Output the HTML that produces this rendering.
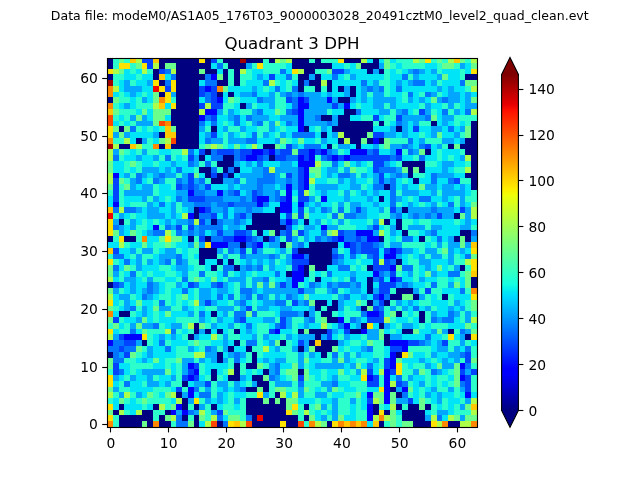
<!DOCTYPE html>
<html><head><meta charset="utf-8"><title>Quadrant 3 DPH</title>
<style>html,body{margin:0;padding:0;background:#fff}svg{display:block}text{font-family:"DejaVu Sans","Liberation Sans",sans-serif;fill:#000}</style></head>
<body>
<svg width="640" height="480" viewBox="0 0 640 480">
<defs><clipPath id="ax"><rect x="107" y="58" width="370" height="369"/></clipPath>
<linearGradient id="jet" x1="0" y1="0" x2="0" y2="1"><stop offset="0.0000" stop-color="#800000"/><stop offset="0.0900" stop-color="#e80000"/><stop offset="0.1100" stop-color="#ff1300"/><stop offset="0.3400" stop-color="#ffec00"/><stop offset="0.3500" stop-color="#f7f600"/><stop offset="0.3600" stop-color="#efff08"/><stop offset="0.6250" stop-color="#15ffe2"/><stop offset="0.6500" stop-color="#00e5f7"/><stop offset="0.6600" stop-color="#00dbff"/><stop offset="0.8750" stop-color="#0000ff"/><stop offset="0.8900" stop-color="#0000ff"/><stop offset="1.0000" stop-color="#000080"/></linearGradient></defs>
<rect width="640" height="480" fill="#fff"/>
<text x="50.8" y="20.1" font-size="12.5" textLength="537.9" lengthAdjust="spacing">Data file: modeM0/AS1A05_176T03_9000003028_20491cztM0_level2_quad_clean.evt</text>
<text x="292" y="49.27" font-size="16.667" text-anchor="middle">Quadrant 3 DPH</text>
<g shape-rendering="crispEdges" clip-path="url(#ax)"><path fill="#000080" d="M107 57h6v6h-6zM159 57h40v6h-40zM205 57h6v6h-6zM223 57h17v6h-17zM246 57h17v6h-17zM269 57h6v6h-6zM292 57h17v6h-17zM315 57h6v6h-6zM344 57h17v6h-17zM373 57h6v6h-6zM107 63h6v6h-6zM159 63h6v6h-6zM176 63h35v6h-35zM228 63h18v6h-18zM292 63h40v6h-40zM361 63h18v6h-18zM153 69h6v5h-6zM176 69h23v5h-23zM205 69h12v5h-12zM223 69h5v5h-5zM234 69h6v5h-6zM304 69h11v5h-11zM367 69h6v5h-6zM379 69h5v5h-5zM107 74h6v6h-6zM153 74h6v6h-6zM176 74h29v6h-29zM223 74h5v6h-5zM234 74h6v6h-6zM298 74h11v6h-11zM315 74h6v6h-6zM465 74h12v6h-12zM159 80h6v6h-6zM176 80h23v6h-23zM217 80h11v6h-11zM234 80h6v6h-6zM298 80h6v6h-6zM309 80h12v6h-12zM327 80h5v6h-5zM176 86h23v6h-23zM298 86h6v6h-6zM315 86h6v6h-6zM327 86h5v6h-5zM338 86h6v6h-6zM350 86h6v6h-6zM159 92h6v5h-6zM176 92h23v5h-23zM217 92h6v5h-6zM228 92h6v5h-6zM350 92h6v5h-6zM107 97h6v6h-6zM176 97h23v6h-23zM338 97h12v6h-12zM176 103h23v6h-23zM240 103h6v6h-6zM171 109h28v6h-28zM344 109h12v6h-12zM171 115h28v6h-28zM321 115h11v6h-11zM338 115h12v6h-12zM171 121h28v5h-28zM338 121h35v5h-35zM379 121h5v5h-5zM431 121h6v5h-6zM471 121h6v5h-6zM119 126h5v6h-5zM176 126h23v6h-23zM211 126h6v6h-6zM304 126h5v6h-5zM332 126h41v6h-41zM396 126h6v6h-6zM471 126h6v6h-6zM159 132h6v6h-6zM176 132h23v6h-23zM321 132h6v6h-6zM344 132h23v6h-23zM471 132h6v6h-6zM136 138h6v6h-6zM176 138h23v6h-23zM338 138h6v6h-6zM350 138h11v6h-11zM367 138h6v6h-6zM379 138h5v6h-5zM465 138h12v6h-12zM119 144h11v5h-11zM159 144h6v5h-6zM171 144h28v5h-28zM263 144h12v5h-12zM327 144h5v5h-5zM356 144h5v5h-5zM448 144h6v5h-6zM460 144h17v5h-17zM205 149h6v6h-6zM425 149h6v6h-6zM465 149h12v6h-12zM199 155h6v6h-6zM223 155h11v6h-11zM269 155h6v6h-6zM471 155h6v6h-6zM217 161h17v6h-17zM402 161h23v6h-23zM471 161h6v6h-6zM199 167h12v6h-12zM223 167h5v6h-5zM234 167h6v6h-6zM408 167h5v6h-5zM419 167h6v6h-6zM471 167h6v6h-6zM205 173h6v5h-6zM217 173h6v5h-6zM228 173h6v5h-6zM408 173h5v5h-5zM465 173h12v5h-12zM211 178h12v6h-12zM413 178h6v6h-6zM471 178h6v6h-6zM384 184h6v6h-6zM471 184h6v6h-6zM379 196h5v6h-5zM194 207h5v6h-5zM275 207h5v6h-5zM402 207h6v6h-6zM194 213h5v6h-5zM252 213h28v6h-28zM454 213h6v6h-6zM119 219h5v6h-5zM211 219h6v6h-6zM252 219h28v6h-28zM304 219h5v6h-5zM384 219h6v6h-6zM396 219h6v6h-6zM246 225h40v5h-40zM396 225h6v5h-6zM257 230h6v6h-6zM275 230h5v6h-5zM402 230h6v6h-6zM460 230h11v6h-11zM107 236h6v6h-6zM124 236h12v6h-12zM188 236h6v6h-6zM205 236h6v6h-6zM263 236h6v6h-6zM379 236h5v6h-5zM419 236h6v6h-6zM454 236h6v6h-6zM465 236h6v6h-6zM240 242h6v6h-6zM280 242h6v6h-6zM309 242h29v6h-29zM199 248h18v6h-18zM298 248h34v6h-34zM199 254h18v5h-18zM309 254h23v5h-23zM199 259h6v6h-6zM217 259h6v6h-6zM228 259h6v6h-6zM309 259h23v6h-23zM396 259h6v6h-6zM211 265h6v6h-6zM234 265h6v6h-6zM304 265h5v6h-5zM315 265h12v6h-12zM367 265h6v6h-6zM460 265h5v6h-5zM286 271h6v6h-6zM304 271h5v6h-5zM315 277h6v5h-6zM367 277h6v5h-6zM471 277h6v5h-6zM107 282h6v6h-6zM367 282h6v6h-6zM471 282h6v6h-6zM367 288h6v6h-6zM396 288h17v6h-17zM390 294h12v6h-12zM413 294h6v6h-6zM442 294h6v6h-6zM315 300h12v6h-12zM332 300h6v6h-6zM367 300h6v6h-6zM384 300h6v6h-6zM315 306h6v5h-6zM327 306h11v5h-11zM361 306h6v5h-6zM119 311h11v6h-11zM211 311h6v6h-6zM304 311h5v6h-5zM321 311h11v6h-11zM396 311h6v6h-6zM419 311h6v6h-6zM327 317h11v6h-11zM419 317h6v6h-6zM194 323h5v6h-5zM361 323h6v6h-6zM379 323h5v6h-5zM194 329h5v5h-5zM205 329h6v5h-6zM217 329h6v5h-6zM234 329h6v5h-6zM298 329h6v5h-6zM309 329h18v5h-18zM350 329h11v5h-11zM402 329h11v5h-11zM448 329h6v5h-6zM188 334h6v6h-6zM315 334h6v6h-6zM384 334h6v6h-6zM465 334h6v6h-6zM142 340h5v6h-5zM234 340h6v6h-6zM280 340h6v6h-6zM309 340h6v6h-6zM321 340h17v6h-17zM384 340h6v6h-6zM228 346h6v6h-6zM246 346h6v6h-6zM298 346h6v6h-6zM315 346h17v6h-17zM107 352h6v6h-6zM217 352h6v6h-6zM252 352h5v6h-5zM321 352h6v6h-6zM396 352h6v6h-6zM217 358h6v5h-6zM252 358h5v5h-5zM234 363h6v6h-6zM246 363h11v6h-11zM211 369h6v6h-6zM234 369h6v6h-6zM263 369h6v6h-6zM298 369h6v6h-6zM211 375h6v6h-6zM228 375h12v6h-12zM252 375h11v6h-11zM182 381h6v6h-6zM257 381h12v6h-12zM246 387h11v5h-11zM263 387h6v5h-6zM390 387h6v5h-6zM176 392h6v6h-6zM275 392h5v6h-5zM396 392h6v6h-6zM182 398h6v6h-6zM246 398h17v6h-17zM269 398h6v6h-6zM280 398h6v6h-6zM119 404h5v6h-5zM153 404h6v6h-6zM182 404h6v6h-6zM194 404h5v6h-5zM211 404h6v6h-6zM246 404h40v6h-40zM304 404h5v6h-5zM373 404h6v6h-6zM396 404h6v6h-6zM408 404h11v6h-11zM425 404h6v6h-6zM113 410h6v5h-6zM142 410h11v5h-11zM165 410h6v5h-6zM246 410h40v5h-40zM373 410h6v5h-6zM384 410h6v5h-6zM402 410h23v5h-23zM119 415h34v6h-34zM159 415h6v6h-6zM182 415h6v6h-6zM194 415h5v6h-5zM252 415h5v6h-5zM263 415h35v6h-35zM304 415h5v6h-5zM402 415h23v6h-23zM119 421h23v6h-23zM147 421h6v6h-6zM159 421h12v6h-12zM194 421h5v6h-5zM217 421h6v6h-6zM252 421h28v6h-28zM286 421h12v6h-12zM327 421h5v6h-5zM379 421h5v6h-5zM413 421h18v6h-18zM448 421h12v6h-12z"/><path fill="#0000ff" d="M211 74h6v6h-6zM205 86h6v6h-6zM217 97h6v6h-6zM298 97h6v6h-6zM327 97h5v6h-5zM298 103h11v6h-11zM344 103h6v6h-6zM205 109h12v6h-12zM298 109h6v6h-6zM199 115h6v6h-6zM298 115h6v6h-6zM298 121h6v5h-6zM298 126h6v6h-6zM373 138h6v6h-6zM252 149h11v6h-11zM269 149h6v6h-6zM309 149h6v6h-6zM321 149h6v6h-6zM350 149h17v6h-17zM396 149h6v6h-6zM246 155h11v6h-11zM298 155h6v6h-6zM309 155h6v6h-6zM332 155h6v6h-6zM344 155h6v6h-6zM298 161h17v6h-17zM304 167h5v6h-5zM113 173h6v5h-6zM304 173h5v5h-5zM304 178h5v6h-5zM286 184h6v6h-6zM304 184h5v6h-5zM188 190h6v6h-6zM217 190h6v6h-6zM286 190h6v6h-6zM257 196h12v6h-12zM286 196h6v6h-6zM321 196h6v6h-6zM113 202h6v5h-6zM257 202h6v5h-6zM280 202h12v5h-12zM298 202h6v5h-6zM199 207h6v6h-6zM280 207h12v6h-12zM188 213h6v6h-6zM286 219h6v6h-6zM153 225h6v5h-6zM321 225h6v5h-6zM356 230h17v6h-17zM234 236h12v6h-12zM338 236h6v6h-6zM367 236h12v6h-12zM211 242h17v6h-17zM257 242h6v6h-6zM344 242h6v6h-6zM390 248h6v6h-6zM292 254h12v5h-12zM384 254h12v5h-12zM298 265h6v6h-6zM390 265h6v6h-6zM292 271h12v6h-12zM373 271h6v6h-6zM292 277h12v5h-12zM390 277h6v5h-6zM292 282h6v6h-6zM379 294h5v6h-5zM367 311h12v6h-12zM338 317h6v6h-6zM344 323h6v6h-6zM275 329h5v5h-5zM361 329h6v5h-6zM124 334h18v6h-18zM107 340h6v6h-6zM390 340h18v6h-18zM402 346h6v6h-6zM390 352h6v6h-6zM390 358h6v5h-6zM188 363h6v6h-6zM390 363h6v6h-6zM460 363h5v6h-5zM194 369h5v6h-5zM384 369h6v6h-6zM188 375h6v6h-6zM367 375h6v6h-6zM384 375h6v6h-6zM460 375h5v6h-5zM384 381h6v6h-6zM188 387h6v5h-6zM384 387h6v5h-6zM402 387h6v5h-6zM188 392h6v6h-6zM367 392h6v6h-6zM384 392h6v6h-6zM465 392h6v6h-6zM384 398h6v6h-6zM176 404h6v6h-6zM367 404h6v6h-6zM171 410h5v5h-5zM182 410h6v5h-6zM367 410h6v5h-6zM367 415h6v6h-6z"/><path fill="#0044ff" d="M142 57h11v6h-11zM211 57h6v6h-6zM147 63h6v6h-6zM159 69h6v5h-6zM332 69h12v5h-12zM269 74h6v6h-6zM165 86h6v6h-6zM199 86h6v6h-6zM211 86h6v6h-6zM199 92h6v5h-6zM211 92h6v5h-6zM211 97h6v6h-6zM286 97h6v6h-6zM304 97h5v6h-5zM199 103h6v6h-6zM211 103h12v6h-12zM332 103h6v6h-6zM292 109h6v6h-6zM419 109h6v6h-6zM211 115h6v6h-6zM373 115h6v6h-6zM396 115h6v6h-6zM413 126h6v6h-6zM211 132h6v6h-6zM373 132h11v6h-11zM286 144h6v5h-6zM425 144h6v5h-6zM199 149h6v6h-6zM217 149h17v6h-17zM240 149h12v6h-12zM263 149h6v6h-6zM280 149h12v6h-12zM298 149h11v6h-11zM315 149h6v6h-6zM373 149h6v6h-6zM188 155h6v6h-6zM240 155h6v6h-6zM257 155h6v6h-6zM275 155h11v6h-11zM304 155h5v6h-5zM327 155h5v6h-5zM338 155h6v6h-6zM350 155h40v6h-40zM396 155h6v6h-6zM373 161h11v6h-11zM298 167h6v6h-6zM373 167h6v6h-6zM188 173h6v5h-6zM211 173h6v5h-6zM223 173h5v5h-5zM286 173h6v5h-6zM298 173h6v5h-6zM379 173h5v5h-5zM113 178h6v6h-6zM188 178h6v6h-6zM298 178h6v6h-6zM379 178h5v6h-5zM454 178h6v6h-6zM113 184h6v6h-6zM176 184h6v6h-6zM188 184h6v6h-6zM205 184h6v6h-6zM298 184h6v6h-6zM113 190h6v6h-6zM234 190h6v6h-6zM252 190h5v6h-5zM298 190h6v6h-6zM113 196h6v6h-6zM188 196h17v6h-17zM252 196h5v6h-5zM280 196h6v6h-6zM298 196h11v6h-11zM228 202h6v5h-6zM205 207h6v6h-6zM298 207h6v6h-6zM356 207h5v6h-5zM390 207h6v6h-6zM460 207h5v6h-5zM211 213h6v6h-6zM240 213h6v6h-6zM286 213h6v6h-6zM298 213h6v6h-6zM437 213h5v6h-5zM199 219h6v6h-6zM176 225h6v5h-6zM188 225h6v5h-6zM286 225h6v5h-6zM373 225h6v5h-6zM217 230h6v6h-6zM234 230h12v6h-12zM286 230h6v6h-6zM298 230h6v6h-6zM338 230h6v6h-6zM199 236h6v6h-6zM223 236h11v6h-11zM246 236h6v6h-6zM269 236h6v6h-6zM286 236h6v6h-6zM332 236h6v6h-6zM356 236h5v6h-5zM252 242h5v6h-5zM350 242h6v6h-6zM361 242h12v6h-12zM113 248h6v6h-6zM240 248h6v6h-6zM252 248h5v6h-5zM292 248h6v6h-6zM350 248h6v6h-6zM361 248h18v6h-18zM384 248h6v6h-6zM396 248h6v6h-6zM332 254h6v5h-6zM373 254h6v5h-6zM292 259h17v6h-17zM373 259h6v6h-6zM384 259h6v6h-6zM292 265h6v6h-6zM373 265h17v6h-17zM390 271h6v6h-6zM379 277h5v5h-5zM396 277h6v5h-6zM113 282h6v6h-6zM188 282h6v6h-6zM217 282h6v6h-6zM280 282h6v6h-6zM379 282h17v6h-17zM298 288h6v6h-6zM379 288h11v6h-11zM425 288h6v6h-6zM373 294h6v6h-6zM205 300h6v6h-6zM292 300h6v6h-6zM379 300h5v6h-5zM246 306h6v5h-6zM373 306h6v5h-6zM379 311h5v6h-5zM113 317h6v6h-6zM240 317h6v6h-6zM280 317h6v6h-6zM367 317h17v6h-17zM280 323h6v6h-6zM269 329h6v5h-6zM327 329h5v5h-5zM344 329h6v5h-6zM119 334h5v6h-5zM327 334h5v6h-5zM124 340h12v6h-12zM298 340h6v6h-6zM408 340h11v6h-11zM442 340h6v6h-6zM119 346h5v6h-5zM390 346h12v6h-12zM124 352h6v6h-6zM465 352h6v6h-6zM384 358h6v5h-6zM465 358h6v5h-6zM113 363h6v6h-6zM194 363h5v6h-5zM384 363h6v6h-6zM113 369h6v6h-6zM188 369h6v6h-6zM367 369h6v6h-6zM390 369h6v6h-6zM460 369h5v6h-5zM471 369h6v6h-6zM182 375h6v6h-6zM194 375h5v6h-5zM298 375h6v6h-6zM373 375h6v6h-6zM465 375h6v6h-6zM205 381h6v6h-6zM367 381h12v6h-12zM396 381h6v6h-6zM465 381h6v6h-6zM176 387h6v5h-6zM465 387h6v5h-6zM367 398h6v6h-6zM408 398h5v6h-5zM217 410h6v5h-6z"/><path fill="#0075ff" d="M217 63h6v6h-6zM165 69h6v5h-6zM280 69h6v5h-6zM413 69h6v5h-6zM171 74h5v6h-5zM205 74h6v6h-6zM286 74h6v6h-6zM332 74h6v6h-6zM402 74h6v6h-6zM165 80h6v6h-6zM205 80h12v6h-12zM263 80h6v6h-6zM304 80h5v6h-5zM361 80h6v6h-6zM413 80h12v6h-12zM460 80h5v6h-5zM275 86h5v6h-5zM292 86h6v6h-6zM367 86h6v6h-6zM379 86h5v6h-5zM396 86h6v6h-6zM205 92h6v5h-6zM252 92h5v5h-5zM286 92h6v5h-6zM298 92h6v5h-6zM408 92h5v5h-5zM425 92h6v5h-6zM205 97h6v6h-6zM257 97h6v6h-6zM292 97h6v6h-6zM442 97h6v6h-6zM292 103h6v6h-6zM257 109h6v6h-6zM286 109h6v6h-6zM356 109h5v6h-5zM402 109h6v6h-6zM442 109h6v6h-6zM465 109h6v6h-6zM205 115h6v6h-6zM234 115h6v6h-6zM246 115h6v6h-6zM315 115h6v6h-6zM425 115h6v6h-6zM199 121h6v5h-6zM211 121h6v5h-6zM234 121h6v5h-6zM257 121h6v5h-6zM286 121h6v5h-6zM327 121h5v5h-5zM396 121h6v5h-6zM130 126h6v6h-6zM448 126h6v6h-6zM252 132h5v6h-5zM292 132h23v6h-23zM205 138h6v6h-6zM246 138h11v6h-11zM408 138h5v6h-5zM304 144h17v5h-17zM402 144h6v5h-6zM419 144h6v5h-6zM188 149h6v6h-6zM211 149h6v6h-6zM234 149h6v6h-6zM275 149h5v6h-5zM327 149h5v6h-5zM367 149h6v6h-6zM408 149h5v6h-5zM113 155h6v6h-6zM165 155h6v6h-6zM211 155h12v6h-12zM234 155h6v6h-6zM263 155h6v6h-6zM286 155h12v6h-12zM321 155h6v6h-6zM390 155h6v6h-6zM419 155h6v6h-6zM188 161h6v6h-6zM205 161h6v6h-6zM257 161h6v6h-6zM332 161h6v6h-6zM176 167h6v6h-6zM211 167h6v6h-6zM228 167h6v6h-6zM263 167h6v6h-6zM379 167h17v6h-17zM136 173h6v5h-6zM159 173h6v5h-6zM263 173h12v5h-12zM338 173h12v5h-12zM396 173h6v5h-6zM431 173h6v5h-6zM136 178h6v6h-6zM153 178h6v6h-6zM176 178h6v6h-6zM199 178h6v6h-6zM234 178h6v6h-6zM257 178h18v6h-18zM286 178h6v6h-6zM390 178h6v6h-6zM431 178h6v6h-6zM448 178h6v6h-6zM182 184h6v6h-6zM194 184h5v6h-5zM257 184h6v6h-6zM373 184h11v6h-11zM390 184h6v6h-6zM194 190h11v6h-11zM228 190h6v6h-6zM257 190h6v6h-6zM275 190h5v6h-5zM390 190h6v6h-6zM176 196h6v6h-6zM205 196h18v6h-18zM240 196h6v6h-6zM275 196h5v6h-5zM390 196h6v6h-6zM419 196h12v6h-12zM159 202h6v5h-6zM194 202h17v5h-17zM217 202h11v5h-11zM234 202h23v5h-23zM263 202h6v5h-6zM390 202h6v5h-6zM448 202h6v5h-6zM113 207h6v6h-6zM124 207h12v6h-12zM223 207h5v6h-5zM246 207h6v6h-6zM321 207h6v6h-6zM338 207h6v6h-6zM431 207h6v6h-6zM199 213h12v6h-12zM223 213h5v6h-5zM234 213h6v6h-6zM332 213h6v6h-6zM344 213h12v6h-12zM396 213h6v6h-6zM413 213h6v6h-6zM425 213h6v6h-6zM188 219h6v6h-6zM217 219h6v6h-6zM234 219h6v6h-6zM280 219h6v6h-6zM292 219h6v6h-6zM113 225h6v5h-6zM165 225h6v5h-6zM199 225h24v5h-24zM153 230h12v6h-12zM176 230h6v6h-6zM188 230h6v6h-6zM199 230h6v6h-6zM246 230h6v6h-6zM280 230h6v6h-6zM321 230h6v6h-6zM344 230h12v6h-12zM431 230h6v6h-6zM471 230h6v6h-6zM211 236h12v6h-12zM252 236h5v6h-5zM315 236h6v6h-6zM327 236h5v6h-5zM344 236h12v6h-12zM361 236h6v6h-6zM402 236h11v6h-11zM437 236h5v6h-5zM228 242h12v6h-12zM246 242h6v6h-6zM298 242h6v6h-6zM356 242h5v6h-5zM373 242h6v6h-6zM228 248h6v6h-6zM332 248h6v6h-6zM356 248h5v6h-5zM113 254h11v5h-11zM176 254h6v5h-6zM240 254h6v5h-6zM269 254h6v5h-6zM304 254h5v5h-5zM338 254h6v5h-6zM350 254h6v5h-6zM367 254h6v5h-6zM465 254h6v5h-6zM124 259h6v6h-6zM165 259h6v6h-6zM176 259h6v6h-6zM332 259h6v6h-6zM390 259h6v6h-6zM113 265h6v6h-6zM223 265h11v6h-11zM246 265h6v6h-6zM257 265h6v6h-6zM338 265h12v6h-12zM402 265h11v6h-11zM130 271h6v6h-6zM199 271h6v6h-6zM223 271h5v6h-5zM275 271h5v6h-5zM327 271h5v6h-5zM379 271h5v6h-5zM448 271h12v6h-12zM182 277h6v5h-6zM263 277h6v5h-6zM350 277h6v5h-6zM373 277h6v5h-6zM119 282h5v6h-5zM147 282h6v6h-6zM194 282h5v6h-5zM211 282h6v6h-6zM309 282h6v6h-6zM327 282h5v6h-5zM338 282h12v6h-12zM356 282h5v6h-5zM402 282h6v6h-6zM431 282h6v6h-6zM147 288h6v6h-6zM182 288h6v6h-6zM240 288h12v6h-12zM332 288h6v6h-6zM460 288h5v6h-5zM142 294h5v6h-5zM217 294h6v6h-6zM228 294h6v6h-6zM246 294h6v6h-6zM257 294h6v6h-6zM286 294h6v6h-6zM344 294h6v6h-6zM384 294h6v6h-6zM159 300h6v6h-6zM240 300h6v6h-6zM275 300h11v6h-11zM304 300h5v6h-5zM130 306h6v5h-6zM379 306h5v5h-5zM413 306h6v5h-6zM199 311h6v6h-6zM234 311h12v6h-12zM252 311h5v6h-5zM280 311h18v6h-18zM361 311h6v6h-6zM448 311h6v6h-6zM234 317h6v6h-6zM309 317h6v6h-6zM350 317h6v6h-6zM431 317h6v6h-6zM442 317h12v6h-12zM153 323h6v6h-6zM246 323h6v6h-6zM275 323h5v6h-5zM338 323h6v6h-6zM130 329h6v5h-6zM171 329h5v5h-5zM460 329h5v5h-5zM425 334h6v6h-6zM113 340h11v6h-11zM159 340h6v6h-6zM246 340h11v6h-11zM419 340h6v6h-6zM107 346h12v6h-12zM124 346h12v6h-12zM165 346h6v6h-6zM205 346h6v6h-6zM367 346h6v6h-6zM465 346h6v6h-6zM113 352h6v6h-6zM234 352h6v6h-6zM332 352h6v6h-6zM460 352h5v6h-5zM113 358h11v5h-11zM234 358h6v5h-6zM275 363h5v6h-5zM367 363h6v6h-6zM465 363h6v6h-6zM119 369h5v6h-5zM275 369h5v6h-5zM431 369h6v6h-6zM269 375h6v6h-6zM396 375h6v6h-6zM124 381h6v6h-6zM298 381h6v6h-6zM332 381h6v6h-6zM402 381h6v6h-6zM460 381h5v6h-5zM194 387h5v5h-5zM240 387h6v5h-6zM199 392h12v6h-12zM402 392h6v6h-6zM188 410h6v5h-6zM176 415h6v6h-6zM217 415h6v6h-6zM246 415h6v6h-6zM437 415h5v6h-5zM176 421h12v6h-12zM223 421h5v6h-5z"/><path fill="#00a6ff" d="M246 63h6v6h-6zM379 63h5v6h-5zM460 63h5v6h-5zM344 69h6v5h-6zM373 69h6v5h-6zM408 69h5v5h-5zM419 69h6v5h-6zM431 69h6v5h-6zM257 74h6v6h-6zM309 74h6v6h-6zM350 74h6v6h-6zM413 74h6v6h-6zM437 74h5v6h-5zM124 80h6v6h-6zM147 80h6v6h-6zM373 80h6v6h-6zM396 80h6v6h-6zM408 80h5v6h-5zM431 80h6v6h-6zM124 86h18v6h-18zM252 86h5v6h-5zM344 86h6v6h-6zM361 86h6v6h-6zM373 86h6v6h-6zM437 86h5v6h-5zM448 86h6v6h-6zM130 92h6v5h-6zM171 92h5v5h-5zM240 92h12v5h-12zM269 92h6v5h-6zM280 92h6v5h-6zM292 92h6v5h-6zM304 92h17v5h-17zM327 92h5v5h-5zM344 92h6v5h-6zM361 92h6v5h-6zM373 92h11v5h-11zM431 92h6v5h-6zM448 92h12v5h-12zM465 92h6v5h-6zM142 97h5v6h-5zM263 97h12v6h-12zM309 97h18v6h-18zM332 97h6v6h-6zM350 97h6v6h-6zM361 97h6v6h-6zM373 97h23v6h-23zM408 97h5v6h-5zM419 97h6v6h-6zM437 97h5v6h-5zM448 97h12v6h-12zM465 97h6v6h-6zM124 103h6v6h-6zM246 103h6v6h-6zM269 103h6v6h-6zM309 103h23v6h-23zM338 103h6v6h-6zM373 103h11v6h-11zM390 103h6v6h-6zM425 103h6v6h-6zM448 103h6v6h-6zM465 103h12v6h-12zM217 109h6v6h-6zM228 109h6v6h-6zM252 109h5v6h-5zM304 109h23v6h-23zM379 109h11v6h-11zM396 109h6v6h-6zM425 109h6v6h-6zM454 109h6v6h-6zM130 115h6v6h-6zM142 115h5v6h-5zM228 115h6v6h-6zM252 115h17v6h-17zM280 115h18v6h-18zM304 115h11v6h-11zM332 115h6v6h-6zM402 115h23v6h-23zM442 115h12v6h-12zM136 121h17v5h-17zM252 121h5v5h-5zM269 121h6v5h-6zM292 121h6v5h-6zM304 121h23v5h-23zM332 121h6v5h-6zM402 121h6v5h-6zM413 121h6v5h-6zM442 121h6v5h-6zM199 126h6v6h-6zM223 126h5v6h-5zM240 126h6v6h-6zM269 126h6v6h-6zM321 126h6v6h-6zM390 126h6v6h-6zM402 126h6v6h-6zM431 126h11v6h-11zM460 126h5v6h-5zM113 132h6v6h-6zM124 132h6v6h-6zM153 132h6v6h-6zM205 132h6v6h-6zM228 132h6v6h-6zM263 132h6v6h-6zM280 132h6v6h-6zM332 132h6v6h-6zM384 132h12v6h-12zM402 132h6v6h-6zM431 132h6v6h-6zM454 132h6v6h-6zM142 138h5v6h-5zM211 138h12v6h-12zM228 138h18v6h-18zM275 138h5v6h-5zM321 138h6v6h-6zM419 138h6v6h-6zM442 138h12v6h-12zM460 138h5v6h-5zM292 144h6v5h-6zM338 144h12v5h-12zM373 144h6v5h-6zM390 144h12v5h-12zM408 144h5v5h-5zM437 144h5v5h-5zM113 149h6v6h-6zM142 149h5v6h-5zM332 149h6v6h-6zM390 149h6v6h-6zM413 149h6v6h-6zM136 155h6v6h-6zM153 155h6v6h-6zM194 155h5v6h-5zM460 155h5v6h-5zM171 161h5v6h-5zM194 161h5v6h-5zM234 161h6v6h-6zM246 161h6v6h-6zM280 161h12v6h-12zM356 161h5v6h-5zM384 161h6v6h-6zM442 161h12v6h-12zM142 167h17v6h-17zM165 167h6v6h-6zM252 167h11v6h-11zM275 167h23v6h-23zM327 167h11v6h-11zM344 167h6v6h-6zM396 167h6v6h-6zM442 167h6v6h-6zM124 173h6v5h-6zM142 173h5v5h-5zM153 173h6v5h-6zM165 173h11v5h-11zM182 173h6v5h-6zM240 173h23v5h-23zM275 173h5v5h-5zM292 173h6v5h-6zM327 173h5v5h-5zM350 173h6v5h-6zM361 173h6v5h-6zM373 173h6v5h-6zM390 173h6v5h-6zM402 173h6v5h-6zM437 173h17v5h-17zM130 178h6v6h-6zM159 178h6v6h-6zM182 178h6v6h-6zM194 178h5v6h-5zM223 178h11v6h-11zM246 178h11v6h-11zM275 178h11v6h-11zM292 178h6v6h-6zM338 178h6v6h-6zM350 178h6v6h-6zM373 178h6v6h-6zM384 178h6v6h-6zM130 184h6v6h-6zM142 184h11v6h-11zM199 184h6v6h-6zM228 184h6v6h-6zM240 184h17v6h-17zM263 184h12v6h-12zM280 184h6v6h-6zM292 184h6v6h-6zM315 184h23v6h-23zM350 184h11v6h-11zM402 184h6v6h-6zM425 184h12v6h-12zM442 184h12v6h-12zM460 184h5v6h-5zM124 190h29v6h-29zM176 190h12v6h-12zM205 190h12v6h-12zM223 190h5v6h-5zM246 190h6v6h-6zM263 190h12v6h-12zM321 190h6v6h-6zM344 190h6v6h-6zM361 190h6v6h-6zM373 190h6v6h-6zM402 190h17v6h-17zM431 190h6v6h-6zM442 190h23v6h-23zM142 196h5v6h-5zM153 196h6v6h-6zM182 196h6v6h-6zM223 196h17v6h-17zM246 196h6v6h-6zM269 196h6v6h-6zM309 196h6v6h-6zM344 196h6v6h-6zM367 196h6v6h-6zM396 196h6v6h-6zM442 196h6v6h-6zM460 196h5v6h-5zM147 202h6v5h-6zM171 202h5v5h-5zM182 202h12v5h-12zM211 202h6v5h-6zM304 202h5v5h-5zM315 202h6v5h-6zM338 202h6v5h-6zM350 202h11v5h-11zM373 202h6v5h-6zM408 202h5v5h-5zM431 202h6v5h-6zM460 202h5v5h-5zM136 207h6v6h-6zM147 207h12v6h-12zM171 207h5v6h-5zM188 207h6v6h-6zM211 207h12v6h-12zM234 207h12v6h-12zM252 207h11v6h-11zM309 207h6v6h-6zM327 207h5v6h-5zM350 207h6v6h-6zM361 207h6v6h-6zM379 207h5v6h-5zM396 207h6v6h-6zM408 207h23v6h-23zM437 207h17v6h-17zM465 207h6v6h-6zM119 213h5v6h-5zM147 213h18v6h-18zM171 213h5v6h-5zM246 213h6v6h-6zM356 213h11v6h-11zM390 213h6v6h-6zM408 213h5v6h-5zM419 213h6v6h-6zM431 213h6v6h-6zM442 213h12v6h-12zM465 213h6v6h-6zM113 219h6v6h-6zM130 219h6v6h-6zM165 219h6v6h-6zM176 219h12v6h-12zM205 219h6v6h-6zM223 219h11v6h-11zM240 219h6v6h-6zM315 219h6v6h-6zM338 219h6v6h-6zM373 219h6v6h-6zM465 219h6v6h-6zM119 225h5v5h-5zM130 225h6v5h-6zM171 225h5v5h-5zM194 225h5v5h-5zM228 225h12v5h-12zM304 225h11v5h-11zM327 225h11v5h-11zM367 225h6v5h-6zM390 225h6v5h-6zM408 225h17v5h-17zM431 225h11v5h-11zM460 225h11v5h-11zM119 230h5v6h-5zM147 230h6v6h-6zM182 230h6v6h-6zM194 230h5v6h-5zM211 230h6v6h-6zM223 230h11v6h-11zM304 230h5v6h-5zM373 230h6v6h-6zM390 230h6v6h-6zM425 230h6v6h-6zM257 236h6v6h-6zM275 236h5v6h-5zM292 236h6v6h-6zM304 236h5v6h-5zM321 236h6v6h-6zM448 236h6v6h-6zM471 236h6v6h-6zM188 242h6v6h-6zM199 242h6v6h-6zM269 242h11v6h-11zM292 242h6v6h-6zM379 242h5v6h-5zM390 242h12v6h-12zM437 242h5v6h-5zM448 242h12v6h-12zM465 242h6v6h-6zM130 248h6v6h-6zM142 248h11v6h-11zM165 248h11v6h-11zM217 248h6v6h-6zM234 248h6v6h-6zM257 248h6v6h-6zM280 248h6v6h-6zM402 248h11v6h-11zM425 248h12v6h-12zM448 248h6v6h-6zM460 248h5v6h-5zM136 254h6v5h-6zM159 254h17v5h-17zM223 254h5v5h-5zM246 254h23v5h-23zM275 254h5v5h-5zM286 254h6v5h-6zM396 254h6v5h-6zM419 254h6v5h-6zM431 254h11v5h-11zM448 254h6v5h-6zM136 259h6v6h-6zM147 259h6v6h-6zM159 259h6v6h-6zM182 259h6v6h-6zM246 259h6v6h-6zM257 259h6v6h-6zM269 259h6v6h-6zM286 259h6v6h-6zM338 259h6v6h-6zM419 259h12v6h-12zM448 259h6v6h-6zM136 265h6v6h-6zM176 265h12v6h-12zM240 265h6v6h-6zM252 265h5v6h-5zM269 265h6v6h-6zM425 265h6v6h-6zM454 265h6v6h-6zM113 271h6v6h-6zM182 271h6v6h-6zM240 271h6v6h-6zM350 271h6v6h-6zM384 271h6v6h-6zM408 271h5v6h-5zM431 271h6v6h-6zM124 277h12v5h-12zM147 277h6v5h-6zM228 277h18v5h-18zM252 277h11v5h-11zM286 277h6v5h-6zM419 277h6v5h-6zM130 282h6v6h-6zM153 282h6v6h-6zM176 282h6v6h-6zM223 282h5v6h-5zM240 282h6v6h-6zM252 282h5v6h-5zM263 282h6v6h-6zM275 282h5v6h-5zM286 282h6v6h-6zM315 282h6v6h-6zM332 282h6v6h-6zM350 282h6v6h-6zM396 282h6v6h-6zM408 282h5v6h-5zM448 282h6v6h-6zM113 288h6v6h-6zM130 288h6v6h-6zM142 288h5v6h-5zM153 288h6v6h-6zM199 288h12v6h-12zM217 288h11v6h-11zM252 288h5v6h-5zM263 288h35v6h-35zM304 288h11v6h-11zM327 288h5v6h-5zM350 288h11v6h-11zM373 288h6v6h-6zM413 288h6v6h-6zM119 294h11v6h-11zM147 294h6v6h-6zM199 294h12v6h-12zM240 294h6v6h-6zM263 294h6v6h-6zM275 294h5v6h-5zM292 294h6v6h-6zM338 294h6v6h-6zM361 294h6v6h-6zM419 294h6v6h-6zM124 300h6v6h-6zM199 300h6v6h-6zM211 300h6v6h-6zM234 300h6v6h-6zM263 300h12v6h-12zM298 300h6v6h-6zM338 300h6v6h-6zM373 300h6v6h-6zM396 300h6v6h-6zM408 300h5v6h-5zM454 300h6v6h-6zM124 306h6v5h-6zM142 306h5v5h-5zM159 306h12v5h-12zM182 306h6v5h-6zM217 306h17v5h-17zM240 306h6v5h-6zM257 306h12v5h-12zM280 306h12v5h-12zM309 306h6v5h-6zM338 306h6v5h-6zM356 306h5v5h-5zM390 306h6v5h-6zM402 306h6v5h-6zM425 306h6v5h-6zM448 306h6v5h-6zM460 306h5v5h-5zM142 311h5v6h-5zM188 311h6v6h-6zM223 311h5v6h-5zM298 311h6v6h-6zM309 311h6v6h-6zM431 311h6v6h-6zM454 311h6v6h-6zM465 311h6v6h-6zM136 317h6v6h-6zM199 317h6v6h-6zM217 317h6v6h-6zM263 317h12v6h-12zM286 317h6v6h-6zM304 317h5v6h-5zM356 317h5v6h-5zM437 317h5v6h-5zM465 317h6v6h-6zM130 323h6v6h-6zM142 323h11v6h-11zM171 323h11v6h-11zM211 323h6v6h-6zM228 323h6v6h-6zM286 323h6v6h-6zM304 323h5v6h-5zM356 323h5v6h-5zM384 323h6v6h-6zM402 323h11v6h-11zM199 329h6v5h-6zM246 329h6v5h-6zM332 329h6v5h-6zM367 329h12v5h-12zM431 329h6v5h-6zM442 329h6v5h-6zM465 329h6v5h-6zM113 334h6v6h-6zM159 334h6v6h-6zM171 334h5v6h-5zM194 334h5v6h-5zM223 334h5v6h-5zM252 334h5v6h-5zM263 334h6v6h-6zM286 334h6v6h-6zM298 334h17v6h-17zM321 334h6v6h-6zM344 334h6v6h-6zM367 334h12v6h-12zM390 334h12v6h-12zM460 334h5v6h-5zM136 340h6v6h-6zM223 340h5v6h-5zM269 340h6v6h-6zM304 340h5v6h-5zM338 340h6v6h-6zM425 340h6v6h-6zM437 340h5v6h-5zM460 340h5v6h-5zM147 346h6v6h-6zM188 346h6v6h-6zM211 346h6v6h-6zM223 346h5v6h-5zM275 346h5v6h-5zM292 346h6v6h-6zM304 346h5v6h-5zM361 346h6v6h-6zM437 346h11v6h-11zM454 346h6v6h-6zM119 352h5v6h-5zM147 352h6v6h-6zM205 352h12v6h-12zM228 352h6v6h-6zM240 352h6v6h-6zM298 352h6v6h-6zM309 352h6v6h-6zM344 352h6v6h-6zM356 352h5v6h-5zM431 352h6v6h-6zM448 352h12v6h-12zM142 358h5v5h-5zM182 358h12v5h-12zM199 358h6v5h-6zM211 358h6v5h-6zM223 358h5v5h-5zM263 358h6v5h-6zM275 358h11v5h-11zM298 358h6v5h-6zM332 358h6v5h-6zM344 358h6v5h-6zM373 358h6v5h-6zM419 358h6v5h-6zM442 358h6v5h-6zM454 358h6v5h-6zM182 363h6v6h-6zM269 363h6v6h-6zM298 363h6v6h-6zM315 363h29v6h-29zM350 363h6v6h-6zM425 363h6v6h-6zM442 363h12v6h-12zM142 369h23v6h-23zM182 369h6v6h-6zM269 369h6v6h-6zM356 369h5v6h-5zM413 369h6v6h-6zM437 369h5v6h-5zM465 369h6v6h-6zM113 375h6v6h-6zM130 375h6v6h-6zM147 375h6v6h-6zM171 375h5v6h-5zM240 375h6v6h-6zM275 375h5v6h-5zM332 375h6v6h-6zM408 375h5v6h-5zM147 381h12v6h-12zM165 381h6v6h-6zM194 381h11v6h-11zM217 381h11v6h-11zM234 381h6v6h-6zM252 381h5v6h-5zM275 381h17v6h-17zM321 381h11v6h-11zM419 381h6v6h-6zM113 387h6v5h-6zM205 387h6v5h-6zM223 387h5v5h-5zM234 387h6v5h-6zM298 387h6v5h-6zM327 387h5v5h-5zM396 387h6v5h-6zM431 387h6v5h-6zM448 387h6v5h-6zM460 387h5v5h-5zM119 392h5v6h-5zM136 392h6v6h-6zM182 392h6v6h-6zM217 392h6v6h-6zM263 392h6v6h-6zM298 392h6v6h-6zM315 392h12v6h-12zM425 392h6v6h-6zM437 392h5v6h-5zM188 398h6v6h-6zM205 398h6v6h-6zM217 398h6v6h-6zM234 398h6v6h-6zM332 398h6v6h-6zM350 398h6v6h-6zM396 398h12v6h-12zM437 398h5v6h-5zM465 398h6v6h-6zM199 404h6v6h-6zM321 404h6v6h-6zM332 404h6v6h-6zM460 404h5v6h-5zM176 410h6v5h-6zM194 410h5v5h-5zM211 410h6v5h-6zM332 410h6v5h-6zM437 410h11v5h-11zM321 415h6v6h-6zM332 415h6v6h-6zM425 415h6v6h-6zM460 415h5v6h-5z"/><path fill="#00e4f8" d="M367 57h6v6h-6zM379 57h5v6h-5zM390 57h6v6h-6zM211 63h6v6h-6zM286 63h6v6h-6zM332 63h12v6h-12zM350 63h6v6h-6zM396 63h6v6h-6zM425 63h12v6h-12zM465 63h6v6h-6zM124 69h6v5h-6zM136 69h6v5h-6zM217 69h6v5h-6zM252 69h11v5h-11zM286 69h6v5h-6zM350 69h17v5h-17zM390 69h6v5h-6zM402 69h6v5h-6zM425 69h6v5h-6zM442 69h18v5h-18zM465 69h6v5h-6zM124 74h12v6h-12zM142 74h11v6h-11zM165 74h6v6h-6zM252 74h5v6h-5zM263 74h6v6h-6zM275 74h11v6h-11zM321 74h11v6h-11zM338 74h6v6h-6zM356 74h28v6h-28zM390 74h12v6h-12zM419 74h18v6h-18zM448 74h12v6h-12zM119 80h5v6h-5zM136 80h11v6h-11zM199 80h6v6h-6zM246 80h17v6h-17zM280 80h6v6h-6zM292 80h6v6h-6zM332 80h29v6h-29zM367 80h6v6h-6zM390 80h6v6h-6zM402 80h6v6h-6zM425 80h6v6h-6zM442 80h18v6h-18zM119 86h5v6h-5zM142 86h11v6h-11zM228 86h24v6h-24zM257 86h6v6h-6zM269 86h6v6h-6zM280 86h6v6h-6zM332 86h6v6h-6zM356 86h5v6h-5zM390 86h6v6h-6zM402 86h35v6h-35zM442 86h6v6h-6zM454 86h11v6h-11zM113 92h6v5h-6zM124 92h6v5h-6zM136 92h6v5h-6zM147 92h6v5h-6zM223 92h5v5h-5zM234 92h6v5h-6zM257 92h12v5h-12zM321 92h6v5h-6zM332 92h12v5h-12zM356 92h5v5h-5zM390 92h12v5h-12zM413 92h6v5h-6zM442 92h6v5h-6zM460 92h5v5h-5zM471 92h6v5h-6zM130 97h6v6h-6zM147 97h6v6h-6zM199 97h6v6h-6zM223 97h5v6h-5zM240 97h17v6h-17zM356 97h5v6h-5zM367 97h6v6h-6zM396 97h6v6h-6zM413 97h6v6h-6zM425 97h6v6h-6zM460 97h5v6h-5zM119 103h5v6h-5zM130 103h6v6h-6zM165 103h6v6h-6zM234 103h6v6h-6zM257 103h12v6h-12zM286 103h6v6h-6zM350 103h6v6h-6zM361 103h12v6h-12zM396 103h23v6h-23zM431 103h11v6h-11zM460 103h5v6h-5zM136 109h6v6h-6zM147 109h6v6h-6zM234 109h6v6h-6zM263 109h12v6h-12zM332 109h12v6h-12zM361 109h18v6h-18zM408 109h5v6h-5zM437 109h5v6h-5zM460 109h5v6h-5zM119 115h5v6h-5zM147 115h6v6h-6zM165 115h6v6h-6zM217 115h11v6h-11zM240 115h6v6h-6zM269 115h11v6h-11zM350 115h11v6h-11zM379 115h5v6h-5zM437 115h5v6h-5zM113 121h6v5h-6zM124 121h6v5h-6zM205 121h6v5h-6zM217 121h6v5h-6zM228 121h6v5h-6zM240 121h6v5h-6zM280 121h6v5h-6zM390 121h6v5h-6zM408 121h5v5h-5zM437 121h5v5h-5zM448 121h6v5h-6zM460 121h5v5h-5zM142 126h5v6h-5zM153 126h6v6h-6zM217 126h6v6h-6zM246 126h11v6h-11zM275 126h5v6h-5zM286 126h12v6h-12zM309 126h6v6h-6zM327 126h5v6h-5zM373 126h17v6h-17zM408 126h5v6h-5zM419 126h12v6h-12zM442 126h6v6h-6zM454 126h6v6h-6zM130 132h23v6h-23zM199 132h6v6h-6zM217 132h6v6h-6zM234 132h6v6h-6zM246 132h6v6h-6zM269 132h6v6h-6zM286 132h6v6h-6zM315 132h6v6h-6zM327 132h5v6h-5zM396 132h6v6h-6zM408 132h11v6h-11zM425 132h6v6h-6zM442 132h12v6h-12zM130 138h6v6h-6zM153 138h6v6h-6zM199 138h6v6h-6zM257 138h18v6h-18zM292 138h6v6h-6zM304 138h11v6h-11zM327 138h11v6h-11zM413 138h6v6h-6zM454 138h6v6h-6zM228 144h6v5h-6zM240 144h6v5h-6zM298 144h6v5h-6zM321 144h6v5h-6zM350 144h6v5h-6zM361 144h12v5h-12zM413 144h6v5h-6zM431 144h6v5h-6zM130 149h6v6h-6zM159 149h12v6h-12zM194 149h5v6h-5zM344 149h6v6h-6zM379 149h11v6h-11zM431 149h6v6h-6zM442 149h18v6h-18zM124 155h12v6h-12zM142 155h11v6h-11zM176 155h6v6h-6zM205 155h6v6h-6zM402 155h11v6h-11zM425 155h12v6h-12zM442 155h6v6h-6zM454 155h6v6h-6zM113 161h11v6h-11zM142 161h11v6h-11zM159 161h12v6h-12zM176 161h12v6h-12zM240 161h6v6h-6zM252 161h5v6h-5zM263 161h17v6h-17zM292 161h6v6h-6zM338 161h6v6h-6zM350 161h6v6h-6zM361 161h6v6h-6zM390 161h6v6h-6zM437 161h5v6h-5zM454 161h11v6h-11zM113 167h11v6h-11zM130 167h6v6h-6zM159 167h6v6h-6zM171 167h5v6h-5zM182 167h12v6h-12zM240 167h12v6h-12zM321 167h6v6h-6zM367 167h6v6h-6zM425 167h17v6h-17zM448 167h6v6h-6zM119 173h5v5h-5zM147 173h6v5h-6zM199 173h6v5h-6zM234 173h6v5h-6zM321 173h6v5h-6zM332 173h6v5h-6zM367 173h6v5h-6zM384 173h6v5h-6zM425 173h6v5h-6zM454 173h11v5h-11zM142 178h5v6h-5zM315 178h12v6h-12zM344 178h6v6h-6zM356 178h11v6h-11zM396 178h6v6h-6zM408 178h5v6h-5zM419 178h12v6h-12zM437 178h11v6h-11zM136 184h6v6h-6zM159 184h12v6h-12zM211 184h17v6h-17zM234 184h6v6h-6zM275 184h5v6h-5zM338 184h12v6h-12zM367 184h6v6h-6zM396 184h6v6h-6zM408 184h11v6h-11zM437 184h5v6h-5zM454 184h6v6h-6zM465 184h6v6h-6zM159 190h17v6h-17zM240 190h6v6h-6zM292 190h6v6h-6zM315 190h6v6h-6zM327 190h11v6h-11zM356 190h5v6h-5zM367 190h6v6h-6zM379 190h11v6h-11zM419 190h12v6h-12zM465 190h6v6h-6zM107 196h6v6h-6zM124 196h18v6h-18zM159 196h6v6h-6zM171 196h5v6h-5zM327 196h17v6h-17zM350 196h17v6h-17zM373 196h6v6h-6zM384 196h6v6h-6zM402 196h6v6h-6zM413 196h6v6h-6zM431 196h11v6h-11zM448 196h6v6h-6zM107 202h6v5h-6zM124 202h6v5h-6zM153 202h6v5h-6zM165 202h6v5h-6zM269 202h11v5h-11zM292 202h6v5h-6zM309 202h6v5h-6zM321 202h11v5h-11zM361 202h12v5h-12zM379 202h11v5h-11zM402 202h6v5h-6zM413 202h6v5h-6zM425 202h6v5h-6zM442 202h6v5h-6zM465 202h6v5h-6zM142 207h5v6h-5zM159 207h12v6h-12zM182 207h6v6h-6zM228 207h6v6h-6zM263 207h12v6h-12zM292 207h6v6h-6zM315 207h6v6h-6zM367 207h12v6h-12zM454 207h6v6h-6zM124 213h6v6h-6zM136 213h11v6h-11zM165 213h6v6h-6zM176 213h6v6h-6zM217 213h6v6h-6zM228 213h6v6h-6zM280 213h6v6h-6zM309 213h18v6h-18zM367 213h12v6h-12zM402 213h6v6h-6zM136 219h6v6h-6zM147 219h6v6h-6zM159 219h6v6h-6zM171 219h5v6h-5zM246 219h6v6h-6zM298 219h6v6h-6zM309 219h6v6h-6zM327 219h5v6h-5zM350 219h17v6h-17zM390 219h6v6h-6zM413 219h6v6h-6zM431 219h23v6h-23zM460 219h5v6h-5zM471 219h6v6h-6zM124 225h6v5h-6zM147 225h6v5h-6zM223 225h5v5h-5zM240 225h6v5h-6zM292 225h6v5h-6zM315 225h6v5h-6zM356 225h11v5h-11zM379 225h5v5h-5zM442 225h18v5h-18zM124 230h6v6h-6zM142 230h5v6h-5zM205 230h6v6h-6zM263 230h6v6h-6zM309 230h12v6h-12zM396 230h6v6h-6zM419 230h6v6h-6zM437 230h23v6h-23zM147 236h12v6h-12zM182 236h6v6h-6zM309 236h6v6h-6zM390 236h6v6h-6zM413 236h6v6h-6zM431 236h6v6h-6zM442 236h6v6h-6zM107 242h12v6h-12zM130 242h12v6h-12zM147 242h6v6h-6zM176 242h12v6h-12zM263 242h6v6h-6zM304 242h5v6h-5zM338 242h6v6h-6zM425 242h6v6h-6zM119 248h11v6h-11zM159 248h6v6h-6zM182 248h6v6h-6zM275 248h5v6h-5zM344 248h6v6h-6zM379 248h5v6h-5zM413 248h6v6h-6zM454 248h6v6h-6zM465 248h6v6h-6zM124 254h6v5h-6zM153 254h6v5h-6zM182 254h6v5h-6zM194 254h5v5h-5zM344 254h6v5h-6zM356 254h5v5h-5zM379 254h5v5h-5zM402 254h6v5h-6zM413 254h6v5h-6zM460 254h5v5h-5zM119 259h5v6h-5zM130 259h6v6h-6zM153 259h6v6h-6zM205 259h12v6h-12zM223 259h5v6h-5zM240 259h6v6h-6zM252 259h5v6h-5zM263 259h6v6h-6zM280 259h6v6h-6zM344 259h12v6h-12zM361 259h12v6h-12zM402 259h6v6h-6zM431 259h17v6h-17zM119 265h5v6h-5zM142 265h17v6h-17zM171 265h5v6h-5zM188 265h6v6h-6zM205 265h6v6h-6zM275 265h11v6h-11zM327 265h11v6h-11zM356 265h5v6h-5zM419 265h6v6h-6zM431 265h6v6h-6zM442 265h6v6h-6zM124 271h6v6h-6zM142 271h5v6h-5zM153 271h12v6h-12zM176 271h6v6h-6zM217 271h6v6h-6zM234 271h6v6h-6zM246 271h6v6h-6zM257 271h18v6h-18zM280 271h6v6h-6zM315 271h6v6h-6zM332 271h18v6h-18zM356 271h17v6h-17zM402 271h6v6h-6zM419 271h6v6h-6zM437 271h11v6h-11zM113 277h6v5h-6zM136 277h6v5h-6zM165 277h11v5h-11zM205 277h6v5h-6zM217 277h6v5h-6zM275 277h11v5h-11zM304 277h5v5h-5zM321 277h11v5h-11zM338 277h6v5h-6zM356 277h11v5h-11zM384 277h6v5h-6zM402 277h11v5h-11zM425 277h12v5h-12zM448 277h6v5h-6zM460 277h5v5h-5zM124 282h6v6h-6zM136 282h11v6h-11zM159 282h6v6h-6zM182 282h6v6h-6zM199 282h12v6h-12zM228 282h6v6h-6zM304 282h5v6h-5zM321 282h6v6h-6zM361 282h6v6h-6zM373 282h6v6h-6zM413 282h12v6h-12zM460 282h5v6h-5zM124 288h6v6h-6zM136 288h6v6h-6zM159 288h6v6h-6zM171 288h11v6h-11zM188 288h6v6h-6zM211 288h6v6h-6zM228 288h6v6h-6zM257 288h6v6h-6zM344 288h6v6h-6zM361 288h6v6h-6zM442 288h18v6h-18zM113 294h6v6h-6zM136 294h6v6h-6zM153 294h6v6h-6zM171 294h5v6h-5zM188 294h6v6h-6zM211 294h6v6h-6zM223 294h5v6h-5zM280 294h6v6h-6zM298 294h6v6h-6zM309 294h23v6h-23zM350 294h11v6h-11zM367 294h6v6h-6zM431 294h6v6h-6zM454 294h17v6h-17zM113 300h6v6h-6zM130 300h6v6h-6zM142 300h11v6h-11zM171 300h5v6h-5zM182 300h6v6h-6zM217 300h11v6h-11zM246 300h6v6h-6zM257 300h6v6h-6zM327 300h5v6h-5zM344 300h12v6h-12zM402 300h6v6h-6zM413 300h6v6h-6zM431 300h17v6h-17zM460 300h5v6h-5zM119 306h5v5h-5zM147 306h6v5h-6zM188 306h6v5h-6zM199 306h6v5h-6zM269 306h11v5h-11zM292 306h17v5h-17zM350 306h6v5h-6zM408 306h5v5h-5zM419 306h6v5h-6zM437 306h11v5h-11zM454 306h6v5h-6zM113 311h6v6h-6zM136 311h6v6h-6zM147 311h6v6h-6zM159 311h6v6h-6zM171 311h17v6h-17zM205 311h6v6h-6zM217 311h6v6h-6zM275 311h5v6h-5zM338 311h6v6h-6zM408 311h5v6h-5zM437 311h11v6h-11zM124 317h12v6h-12zM147 317h6v6h-6zM159 317h17v6h-17zM205 317h6v6h-6zM223 317h11v6h-11zM246 317h17v6h-17zM361 317h6v6h-6zM396 317h12v6h-12zM413 317h6v6h-6zM454 317h6v6h-6zM119 323h5v6h-5zM165 323h6v6h-6zM217 323h11v6h-11zM240 323h6v6h-6zM252 323h5v6h-5zM269 323h6v6h-6zM298 323h6v6h-6zM309 323h12v6h-12zM332 323h6v6h-6zM350 323h6v6h-6zM373 323h6v6h-6zM390 323h6v6h-6zM413 323h6v6h-6zM425 323h6v6h-6zM448 323h17v6h-17zM113 329h6v5h-6zM136 329h6v5h-6zM182 329h6v5h-6zM211 329h6v5h-6zM223 329h5v5h-5zM240 329h6v5h-6zM252 329h5v5h-5zM280 329h12v5h-12zM338 329h6v5h-6zM384 329h6v5h-6zM396 329h6v5h-6zM419 329h12v5h-12zM153 334h6v6h-6zM165 334h6v6h-6zM176 334h6v6h-6zM199 334h12v6h-12zM240 334h12v6h-12zM269 334h11v6h-11zM292 334h6v6h-6zM332 334h6v6h-6zM350 334h11v6h-11zM402 334h23v6h-23zM431 334h11v6h-11zM454 334h6v6h-6zM153 340h6v6h-6zM171 340h17v6h-17zM211 340h12v6h-12zM228 340h6v6h-6zM263 340h6v6h-6zM292 340h6v6h-6zM344 340h6v6h-6zM361 340h6v6h-6zM431 340h6v6h-6zM471 340h6v6h-6zM153 346h12v6h-12zM171 346h5v6h-5zM194 346h5v6h-5zM234 346h12v6h-12zM269 346h6v6h-6zM338 346h6v6h-6zM350 346h11v6h-11zM384 346h6v6h-6zM431 346h6v6h-6zM460 346h5v6h-5zM142 352h5v6h-5zM153 352h23v6h-23zM223 352h5v6h-5zM263 352h23v6h-23zM315 352h6v6h-6zM361 352h12v6h-12zM384 352h6v6h-6zM413 352h12v6h-12zM437 352h11v6h-11zM136 358h6v5h-6zM147 358h6v5h-6zM159 358h6v5h-6zM205 358h6v5h-6zM240 358h6v5h-6zM257 358h6v5h-6zM269 358h6v5h-6zM309 358h12v5h-12zM350 358h6v5h-6zM367 358h6v5h-6zM402 358h17v5h-17zM425 358h6v5h-6zM437 358h5v5h-5zM448 358h6v5h-6zM119 363h11v6h-11zM153 363h12v6h-12zM171 363h5v6h-5zM205 363h23v6h-23zM280 363h12v6h-12zM309 363h6v6h-6zM344 363h6v6h-6zM361 363h6v6h-6zM373 363h6v6h-6zM408 363h5v6h-5zM431 363h6v6h-6zM124 369h6v6h-6zM136 369h6v6h-6zM171 369h5v6h-5zM205 369h6v6h-6zM217 369h6v6h-6zM246 369h6v6h-6zM257 369h6v6h-6zM309 369h12v6h-12zM327 369h11v6h-11zM344 369h6v6h-6zM373 369h6v6h-6zM442 369h6v6h-6zM119 375h5v6h-5zM136 375h11v6h-11zM159 375h12v6h-12zM199 375h6v6h-6zM223 375h5v6h-5zM246 375h6v6h-6zM280 375h6v6h-6zM315 375h6v6h-6zM327 375h5v6h-5zM350 375h11v6h-11zM390 375h6v6h-6zM413 375h12v6h-12zM431 375h6v6h-6zM448 375h6v6h-6zM113 381h6v6h-6zM130 381h12v6h-12zM159 381h6v6h-6zM188 381h6v6h-6zM240 381h6v6h-6zM338 381h12v6h-12zM413 381h6v6h-6zM431 381h6v6h-6zM442 381h6v6h-6zM130 387h23v5h-23zM171 387h5v5h-5zM217 387h6v5h-6zM228 387h6v5h-6zM315 387h6v5h-6zM344 387h12v5h-12zM367 387h12v5h-12zM413 387h6v5h-6zM425 387h6v5h-6zM142 392h5v6h-5zM159 392h6v6h-6zM194 392h5v6h-5zM223 392h5v6h-5zM234 392h12v6h-12zM286 392h6v6h-6zM332 392h12v6h-12zM361 392h6v6h-6zM413 392h6v6h-6zM431 392h6v6h-6zM442 392h12v6h-12zM460 392h5v6h-5zM471 392h6v6h-6zM113 398h6v6h-6zM130 398h6v6h-6zM171 398h5v6h-5zM211 398h6v6h-6zM223 398h5v6h-5zM298 398h17v6h-17zM321 398h11v6h-11zM361 398h6v6h-6zM413 398h6v6h-6zM431 398h6v6h-6zM448 398h12v6h-12zM113 404h6v6h-6zM124 404h18v6h-18zM147 404h6v6h-6zM217 404h6v6h-6zM234 404h6v6h-6zM350 404h6v6h-6zM361 404h6v6h-6zM384 404h6v6h-6zM437 404h5v6h-5zM448 404h6v6h-6zM130 410h6v5h-6zM315 410h6v5h-6zM327 410h5v5h-5zM350 410h6v5h-6zM396 410h6v5h-6zM425 410h6v5h-6zM448 410h6v5h-6zM223 415h5v6h-5zM315 415h6v6h-6zM344 415h12v6h-12zM442 415h6v6h-6zM199 421h6v6h-6zM367 421h6v6h-6z"/><path fill="#2cffcb" d="M113 57h6v6h-6zM124 57h6v6h-6zM217 57h6v6h-6zM263 57h6v6h-6zM309 57h6v6h-6zM321 57h17v6h-17zM396 57h17v6h-17zM431 57h6v6h-6zM442 57h6v6h-6zM465 57h6v6h-6zM113 63h6v6h-6zM130 63h6v6h-6zM223 63h5v6h-5zM252 63h5v6h-5zM263 63h23v6h-23zM344 63h6v6h-6zM390 63h6v6h-6zM402 63h23v6h-23zM437 63h5v6h-5zM454 63h6v6h-6zM130 69h6v5h-6zM147 69h6v5h-6zM228 69h6v5h-6zM246 69h6v5h-6zM263 69h17v5h-17zM315 69h12v5h-12zM384 69h6v5h-6zM396 69h6v5h-6zM437 69h5v5h-5zM460 69h5v5h-5zM113 74h11v6h-11zM136 74h6v6h-6zM228 74h6v6h-6zM240 74h12v6h-12zM292 74h6v6h-6zM344 74h6v6h-6zM384 74h6v6h-6zM408 74h5v6h-5zM460 74h5v6h-5zM113 80h6v6h-6zM130 80h6v6h-6zM228 80h6v6h-6zM240 80h6v6h-6zM275 80h5v6h-5zM286 80h6v6h-6zM379 80h11v6h-11zM437 80h5v6h-5zM263 86h6v6h-6zM286 86h6v6h-6zM304 86h11v6h-11zM321 86h6v6h-6zM384 86h6v6h-6zM465 86h6v6h-6zM119 92h5v5h-5zM142 92h5v5h-5zM275 92h5v5h-5zM367 92h6v5h-6zM384 92h6v5h-6zM402 92h6v5h-6zM419 92h6v5h-6zM437 92h5v5h-5zM119 97h11v6h-11zM136 97h6v6h-6zM171 97h5v6h-5zM234 97h6v6h-6zM275 97h11v6h-11zM402 97h6v6h-6zM113 103h6v6h-6zM136 103h17v6h-17zM223 103h11v6h-11zM252 103h5v6h-5zM275 103h11v6h-11zM356 103h5v6h-5zM384 103h6v6h-6zM419 103h6v6h-6zM442 103h6v6h-6zM454 103h6v6h-6zM119 109h17v6h-17zM223 109h5v6h-5zM240 109h12v6h-12zM280 109h6v6h-6zM327 109h5v6h-5zM390 109h6v6h-6zM413 109h6v6h-6zM431 109h6v6h-6zM448 109h6v6h-6zM113 115h6v6h-6zM124 115h6v6h-6zM361 115h12v6h-12zM384 115h12v6h-12zM454 115h23v6h-23zM119 121h5v5h-5zM130 121h6v5h-6zM223 121h5v5h-5zM246 121h6v5h-6zM263 121h6v5h-6zM373 121h6v5h-6zM384 121h6v5h-6zM419 121h12v5h-12zM454 121h6v5h-6zM465 121h6v5h-6zM136 126h6v6h-6zM147 126h6v6h-6zM159 126h6v6h-6zM205 126h6v6h-6zM228 126h12v6h-12zM257 126h12v6h-12zM280 126h6v6h-6zM315 126h6v6h-6zM223 132h5v6h-5zM240 132h6v6h-6zM257 132h6v6h-6zM275 132h5v6h-5zM419 132h6v6h-6zM460 132h5v6h-5zM113 138h11v6h-11zM147 138h6v6h-6zM223 138h5v6h-5zM286 138h6v6h-6zM315 138h6v6h-6zM390 138h18v6h-18zM425 138h17v6h-17zM142 144h11v5h-11zM199 144h6v5h-6zM223 144h5v5h-5zM246 144h6v5h-6zM257 144h6v5h-6zM280 144h6v5h-6zM332 144h6v5h-6zM379 144h5v5h-5zM442 144h6v5h-6zM124 149h6v6h-6zM136 149h6v6h-6zM147 149h12v6h-12zM171 149h11v6h-11zM338 149h6v6h-6zM402 149h6v6h-6zM437 149h5v6h-5zM460 149h5v6h-5zM119 155h5v6h-5zM159 155h6v6h-6zM171 155h5v6h-5zM182 155h6v6h-6zM315 155h6v6h-6zM413 155h6v6h-6zM437 155h5v6h-5zM448 155h6v6h-6zM124 161h6v6h-6zM136 161h6v6h-6zM153 161h6v6h-6zM199 161h6v6h-6zM211 161h6v6h-6zM321 161h11v6h-11zM367 161h6v6h-6zM396 161h6v6h-6zM425 161h12v6h-12zM465 161h6v6h-6zM124 167h6v6h-6zM136 167h6v6h-6zM194 167h5v6h-5zM217 167h6v6h-6zM338 167h6v6h-6zM356 167h11v6h-11zM454 167h11v6h-11zM130 173h6v5h-6zM176 173h6v5h-6zM280 173h6v5h-6zM309 173h6v5h-6zM356 173h5v5h-5zM413 173h12v5h-12zM124 178h6v6h-6zM147 178h6v6h-6zM165 178h11v6h-11zM205 178h6v6h-6zM240 178h6v6h-6zM327 178h11v6h-11zM367 178h6v6h-6zM402 178h6v6h-6zM460 178h11v6h-11zM119 184h5v6h-5zM153 184h6v6h-6zM171 184h5v6h-5zM309 184h6v6h-6zM361 184h6v6h-6zM107 190h6v6h-6zM119 190h5v6h-5zM153 190h6v6h-6zM280 190h6v6h-6zM309 190h6v6h-6zM338 190h6v6h-6zM350 190h6v6h-6zM396 190h6v6h-6zM437 190h5v6h-5zM471 190h6v6h-6zM119 196h5v6h-5zM147 196h6v6h-6zM165 196h6v6h-6zM292 196h6v6h-6zM315 196h6v6h-6zM408 196h5v6h-5zM454 196h6v6h-6zM465 196h12v6h-12zM119 202h5v5h-5zM130 202h17v5h-17zM176 202h6v5h-6zM332 202h6v5h-6zM344 202h6v5h-6zM396 202h6v5h-6zM419 202h6v5h-6zM437 202h5v5h-5zM454 202h6v5h-6zM176 207h6v6h-6zM304 207h5v6h-5zM332 207h6v6h-6zM344 207h6v6h-6zM384 207h6v6h-6zM113 213h6v6h-6zM130 213h6v6h-6zM327 213h5v6h-5zM379 213h11v6h-11zM124 219h6v6h-6zM142 219h5v6h-5zM153 219h6v6h-6zM321 219h6v6h-6zM332 219h6v6h-6zM344 219h6v6h-6zM367 219h6v6h-6zM402 219h11v6h-11zM419 219h12v6h-12zM454 219h6v6h-6zM136 225h11v5h-11zM159 225h6v5h-6zM182 225h6v5h-6zM298 225h6v5h-6zM338 225h18v5h-18zM384 225h6v5h-6zM402 225h6v5h-6zM425 225h6v5h-6zM471 225h6v5h-6zM136 230h6v6h-6zM171 230h5v6h-5zM252 230h5v6h-5zM384 230h6v6h-6zM408 230h11v6h-11zM113 236h6v6h-6zM136 236h6v6h-6zM194 236h5v6h-5zM280 236h6v6h-6zM298 236h6v6h-6zM384 236h6v6h-6zM396 236h6v6h-6zM425 236h6v6h-6zM124 242h6v6h-6zM153 242h12v6h-12zM171 242h5v6h-5zM384 242h6v6h-6zM402 242h23v6h-23zM431 242h6v6h-6zM442 242h6v6h-6zM136 248h6v6h-6zM153 248h6v6h-6zM176 248h6v6h-6zM188 248h11v6h-11zM223 248h5v6h-5zM246 248h6v6h-6zM263 248h12v6h-12zM286 248h6v6h-6zM338 248h6v6h-6zM419 248h6v6h-6zM437 248h5v6h-5zM107 254h6v5h-6zM130 254h6v5h-6zM142 254h11v5h-11zM188 254h6v5h-6zM217 254h6v5h-6zM228 254h12v5h-12zM280 254h6v5h-6zM361 254h6v5h-6zM408 254h5v5h-5zM425 254h6v5h-6zM442 254h6v5h-6zM454 254h6v5h-6zM113 259h6v6h-6zM142 259h5v6h-5zM171 259h5v6h-5zM188 259h11v6h-11zM234 259h6v6h-6zM275 259h5v6h-5zM356 259h5v6h-5zM408 259h11v6h-11zM454 259h11v6h-11zM130 265h6v6h-6zM159 265h12v6h-12zM194 265h11v6h-11zM217 265h6v6h-6zM263 265h6v6h-6zM286 265h6v6h-6zM350 265h6v6h-6zM361 265h6v6h-6zM413 265h6v6h-6zM448 265h6v6h-6zM465 265h6v6h-6zM119 271h5v6h-5zM136 271h6v6h-6zM147 271h6v6h-6zM165 271h11v6h-11zM188 271h11v6h-11zM205 271h12v6h-12zM228 271h6v6h-6zM252 271h5v6h-5zM309 271h6v6h-6zM321 271h6v6h-6zM396 271h6v6h-6zM413 271h6v6h-6zM460 271h5v6h-5zM119 277h5v5h-5zM142 277h5v5h-5zM153 277h12v5h-12zM176 277h6v5h-6zM188 277h6v5h-6zM199 277h6v5h-6zM223 277h5v5h-5zM246 277h6v5h-6zM269 277h6v5h-6zM309 277h6v5h-6zM332 277h6v5h-6zM344 277h6v5h-6zM413 277h6v5h-6zM437 277h11v5h-11zM454 277h6v5h-6zM165 282h11v6h-11zM234 282h6v6h-6zM246 282h6v6h-6zM298 282h6v6h-6zM425 282h6v6h-6zM437 282h11v6h-11zM119 288h5v6h-5zM165 288h6v6h-6zM194 288h5v6h-5zM234 288h6v6h-6zM315 288h12v6h-12zM338 288h6v6h-6zM390 288h6v6h-6zM419 288h6v6h-6zM431 288h11v6h-11zM465 288h6v6h-6zM130 294h6v6h-6zM159 294h12v6h-12zM176 294h6v6h-6zM194 294h5v6h-5zM234 294h6v6h-6zM252 294h5v6h-5zM269 294h6v6h-6zM332 294h6v6h-6zM425 294h6v6h-6zM437 294h5v6h-5zM448 294h6v6h-6zM119 300h5v6h-5zM153 300h6v6h-6zM165 300h6v6h-6zM176 300h6v6h-6zM188 300h6v6h-6zM228 300h6v6h-6zM252 300h5v6h-5zM286 300h6v6h-6zM361 300h6v6h-6zM390 300h6v6h-6zM419 300h12v6h-12zM448 300h6v6h-6zM465 300h6v6h-6zM113 306h6v5h-6zM136 306h6v5h-6zM171 306h11v5h-11zM194 306h5v5h-5zM205 306h12v5h-12zM234 306h6v5h-6zM252 306h5v5h-5zM321 306h6v5h-6zM344 306h6v5h-6zM384 306h6v5h-6zM396 306h6v5h-6zM431 306h6v5h-6zM465 306h6v5h-6zM130 311h6v6h-6zM153 311h6v6h-6zM194 311h5v6h-5zM228 311h6v6h-6zM257 311h18v6h-18zM315 311h6v6h-6zM332 311h6v6h-6zM344 311h17v6h-17zM384 311h6v6h-6zM402 311h6v6h-6zM413 311h6v6h-6zM425 311h6v6h-6zM460 311h5v6h-5zM471 311h6v6h-6zM119 317h5v6h-5zM153 317h6v6h-6zM176 317h23v6h-23zM211 317h6v6h-6zM275 317h5v6h-5zM292 317h12v6h-12zM315 317h6v6h-6zM344 317h6v6h-6zM390 317h6v6h-6zM408 317h5v6h-5zM425 317h6v6h-6zM460 317h5v6h-5zM107 323h6v6h-6zM124 323h6v6h-6zM159 323h6v6h-6zM182 323h6v6h-6zM205 323h6v6h-6zM234 323h6v6h-6zM257 323h12v6h-12zM292 323h6v6h-6zM327 323h5v6h-5zM396 323h6v6h-6zM419 323h6v6h-6zM431 323h17v6h-17zM471 323h6v6h-6zM119 329h11v5h-11zM147 329h18v5h-18zM176 329h6v5h-6zM188 329h6v5h-6zM228 329h6v5h-6zM257 329h12v5h-12zM292 329h6v5h-6zM390 329h6v5h-6zM454 329h6v5h-6zM147 334h6v6h-6zM182 334h6v6h-6zM217 334h6v6h-6zM228 334h12v6h-12zM257 334h6v6h-6zM280 334h6v6h-6zM338 334h6v6h-6zM361 334h6v6h-6zM442 334h6v6h-6zM147 340h6v6h-6zM165 340h6v6h-6zM188 340h6v6h-6zM199 340h12v6h-12zM240 340h6v6h-6zM257 340h6v6h-6zM286 340h6v6h-6zM350 340h11v6h-11zM373 340h11v6h-11zM448 340h12v6h-12zM465 340h6v6h-6zM142 346h5v6h-5zM176 346h12v6h-12zM199 346h6v6h-6zM217 346h6v6h-6zM252 346h11v6h-11zM280 346h12v6h-12zM344 346h6v6h-6zM373 346h11v6h-11zM408 346h23v6h-23zM448 346h6v6h-6zM471 346h6v6h-6zM136 352h6v6h-6zM176 352h18v6h-18zM246 352h6v6h-6zM257 352h6v6h-6zM286 352h12v6h-12zM304 352h5v6h-5zM327 352h5v6h-5zM338 352h6v6h-6zM350 352h6v6h-6zM373 352h11v6h-11zM425 352h6v6h-6zM471 352h6v6h-6zM124 358h12v5h-12zM165 358h11v5h-11zM194 358h5v5h-5zM228 358h6v5h-6zM246 358h6v5h-6zM286 358h12v5h-12zM321 358h11v5h-11zM356 358h11v5h-11zM379 358h5v5h-5zM431 358h6v5h-6zM460 358h5v5h-5zM130 363h23v6h-23zM165 363h6v6h-6zM176 363h6v6h-6zM199 363h6v6h-6zM228 363h6v6h-6zM240 363h6v6h-6zM263 363h6v6h-6zM304 363h5v6h-5zM379 363h5v6h-5zM402 363h6v6h-6zM413 363h12v6h-12zM471 363h6v6h-6zM107 369h6v6h-6zM130 369h6v6h-6zM176 369h6v6h-6zM199 369h6v6h-6zM223 369h5v6h-5zM240 369h6v6h-6zM252 369h5v6h-5zM280 369h6v6h-6zM321 369h6v6h-6zM350 369h6v6h-6zM402 369h11v6h-11zM425 369h6v6h-6zM448 369h6v6h-6zM124 375h6v6h-6zM153 375h6v6h-6zM176 375h6v6h-6zM205 375h6v6h-6zM217 375h6v6h-6zM286 375h6v6h-6zM309 375h6v6h-6zM321 375h6v6h-6zM338 375h12v6h-12zM379 375h5v6h-5zM402 375h6v6h-6zM425 375h6v6h-6zM437 375h11v6h-11zM471 375h6v6h-6zM119 381h5v6h-5zM142 381h5v6h-5zM171 381h11v6h-11zM211 381h6v6h-6zM228 381h6v6h-6zM246 381h6v6h-6zM269 381h6v6h-6zM292 381h6v6h-6zM304 381h17v6h-17zM350 381h17v6h-17zM379 381h5v6h-5zM408 381h5v6h-5zM425 381h6v6h-6zM437 381h5v6h-5zM448 381h6v6h-6zM471 381h6v6h-6zM119 387h11v5h-11zM153 387h18v5h-18zM182 387h6v5h-6zM199 387h6v5h-6zM211 387h6v5h-6zM269 387h6v5h-6zM286 387h12v5h-12zM309 387h6v5h-6zM321 387h6v5h-6zM338 387h6v5h-6zM356 387h11v5h-11zM419 387h6v5h-6zM437 387h11v5h-11zM454 387h6v5h-6zM471 387h6v5h-6zM113 392h6v6h-6zM130 392h6v6h-6zM153 392h6v6h-6zM211 392h6v6h-6zM228 392h6v6h-6zM246 392h11v6h-11zM269 392h6v6h-6zM304 392h11v6h-11zM327 392h5v6h-5zM344 392h12v6h-12zM408 392h5v6h-5zM419 392h6v6h-6zM454 392h6v6h-6zM107 398h6v6h-6zM124 398h6v6h-6zM136 398h6v6h-6zM147 398h24v6h-24zM199 398h6v6h-6zM228 398h6v6h-6zM240 398h6v6h-6zM315 398h6v6h-6zM338 398h12v6h-12zM356 398h5v6h-5zM425 398h6v6h-6zM442 398h6v6h-6zM460 398h5v6h-5zM142 404h5v6h-5zM165 404h6v6h-6zM188 404h6v6h-6zM205 404h6v6h-6zM223 404h11v6h-11zM240 404h6v6h-6zM298 404h6v6h-6zM309 404h6v6h-6zM327 404h5v6h-5zM338 404h12v6h-12zM356 404h5v6h-5zM379 404h5v6h-5zM402 404h6v6h-6zM431 404h6v6h-6zM442 404h6v6h-6zM454 404h6v6h-6zM124 410h6v5h-6zM153 410h12v5h-12zM205 410h6v5h-6zM228 410h18v5h-18zM298 410h6v5h-6zM309 410h6v5h-6zM321 410h6v5h-6zM338 410h12v5h-12zM356 410h11v5h-11zM431 410h6v5h-6zM454 410h17v5h-17zM113 415h6v6h-6zM153 415h6v6h-6zM188 415h6v6h-6zM205 415h6v6h-6zM240 415h6v6h-6zM298 415h6v6h-6zM327 415h5v6h-5zM356 415h11v6h-11zM396 415h6v6h-6zM113 421h6v6h-6zM171 421h5v6h-5zM304 421h5v6h-5zM384 421h6v6h-6zM396 421h6v6h-6z"/><path fill="#6aff8d" d="M119 57h5v6h-5zM280 57h6v6h-6zM384 57h6v6h-6zM419 57h6v6h-6zM437 57h5v6h-5zM460 57h5v6h-5zM136 63h6v6h-6zM165 63h11v6h-11zM356 63h5v6h-5zM384 63h6v6h-6zM442 63h12v6h-12zM471 63h6v6h-6zM119 69h5v5h-5zM199 69h6v5h-6zM327 69h5v5h-5zM217 74h6v6h-6zM442 74h6v6h-6zM465 80h12v6h-12zM223 86h5v6h-5zM153 92h6v5h-6zM113 97h6v6h-6zM153 97h6v6h-6zM228 97h6v6h-6zM431 97h6v6h-6zM471 97h6v6h-6zM113 109h6v6h-6zM142 109h5v6h-5zM153 109h18v6h-18zM275 109h5v6h-5zM136 115h6v6h-6zM153 115h12v6h-12zM431 115h6v6h-6zM153 121h6v5h-6zM275 121h5v5h-5zM113 126h6v6h-6zM124 126h6v6h-6zM171 126h5v6h-5zM465 126h6v6h-6zM119 132h5v6h-5zM367 132h6v6h-6zM437 132h5v6h-5zM465 132h6v6h-6zM159 138h6v6h-6zM280 138h6v6h-6zM298 138h6v6h-6zM361 138h6v6h-6zM384 138h6v6h-6zM205 144h6v5h-6zM217 144h6v5h-6zM234 144h6v5h-6zM275 144h5v5h-5zM384 144h6v5h-6zM454 144h6v5h-6zM119 149h5v6h-5zM292 149h6v6h-6zM419 149h6v6h-6zM107 161h6v6h-6zM130 161h6v6h-6zM344 161h6v6h-6zM107 167h6v6h-6zM309 167h12v6h-12zM350 167h6v6h-6zM402 167h6v6h-6zM413 167h6v6h-6zM194 173h5v5h-5zM315 173h6v5h-6zM119 178h5v6h-5zM107 184h6v6h-6zM124 184h6v6h-6zM419 184h6v6h-6zM471 202h6v5h-6zM292 213h6v6h-6zM304 213h5v6h-5zM338 213h6v6h-6zM460 213h5v6h-5zM113 230h6v6h-6zM130 230h6v6h-6zM269 230h6v6h-6zM292 230h6v6h-6zM327 230h5v6h-5zM159 236h6v6h-6zM171 236h11v6h-11zM460 236h5v6h-5zM142 242h5v6h-5zM165 242h6v6h-6zM194 242h5v6h-5zM286 242h6v6h-6zM460 242h5v6h-5zM442 248h6v6h-6zM471 254h6v5h-6zM107 265h6v6h-6zM124 265h6v6h-6zM309 265h6v6h-6zM396 265h6v6h-6zM437 265h5v6h-5zM107 271h6v6h-6zM425 271h6v6h-6zM465 271h6v6h-6zM194 277h5v5h-5zM211 277h6v5h-6zM465 277h6v5h-6zM257 282h6v6h-6zM269 282h6v6h-6zM454 282h6v6h-6zM465 282h6v6h-6zM107 288h6v6h-6zM182 294h6v6h-6zM304 294h5v6h-5zM402 294h11v6h-11zM136 300h6v6h-6zM309 300h6v6h-6zM356 300h5v6h-5zM471 300h6v6h-6zM107 306h6v5h-6zM153 306h6v5h-6zM367 306h6v5h-6zM471 306h6v5h-6zM165 311h6v6h-6zM246 311h6v6h-6zM390 311h6v6h-6zM107 317h6v6h-6zM142 317h5v6h-5zM321 317h6v6h-6zM113 323h6v6h-6zM136 323h6v6h-6zM199 323h6v6h-6zM465 323h6v6h-6zM142 329h5v5h-5zM304 329h5v5h-5zM379 329h5v5h-5zM413 329h6v5h-6zM437 329h5v5h-5zM471 329h6v5h-6zM379 334h5v6h-5zM194 340h5v6h-5zM275 340h5v6h-5zM367 340h6v6h-6zM136 346h6v6h-6zM309 346h6v6h-6zM332 346h6v6h-6zM130 352h6v6h-6zM408 352h5v6h-5zM107 358h6v5h-6zM153 358h6v5h-6zM176 358h6v5h-6zM304 358h5v5h-5zM338 358h6v5h-6zM396 358h6v5h-6zM471 358h6v5h-6zM107 363h6v6h-6zM257 363h6v6h-6zM292 363h6v6h-6zM356 363h5v6h-5zM437 363h5v6h-5zM454 363h6v6h-6zM165 369h6v6h-6zM286 369h12v6h-12zM304 369h5v6h-5zM338 369h6v6h-6zM419 369h6v6h-6zM454 369h6v6h-6zM263 375h6v6h-6zM292 375h6v6h-6zM304 375h5v6h-5zM454 375h6v6h-6zM454 381h6v6h-6zM107 387h6v5h-6zM257 387h6v5h-6zM275 387h11v5h-11zM304 387h5v5h-5zM332 387h6v5h-6zM408 387h5v5h-5zM147 392h6v6h-6zM165 392h6v6h-6zM356 392h5v6h-5zM373 392h11v6h-11zM390 392h6v6h-6zM119 398h5v6h-5zM142 398h5v6h-5zM263 398h6v6h-6zM275 398h5v6h-5zM286 398h12v6h-12zM379 398h5v6h-5zM390 398h6v6h-6zM419 398h6v6h-6zM171 404h5v6h-5zM286 404h6v6h-6zM315 404h6v6h-6zM419 404h6v6h-6zM465 404h6v6h-6zM107 410h6v5h-6zM223 410h5v5h-5zM292 410h6v5h-6zM390 410h6v5h-6zM165 415h6v6h-6zM199 415h6v6h-6zM228 415h12v6h-12zM309 415h6v6h-6zM338 415h6v6h-6zM390 415h6v6h-6zM454 415h6v6h-6zM465 415h12v6h-12zM142 421h5v6h-5zM188 421h6v6h-6zM321 421h6v6h-6zM390 421h6v6h-6zM402 421h11v6h-11z"/><path fill="#aeff49" d="M136 57h6v6h-6zM275 57h5v6h-5zM286 57h6v6h-6zM361 57h6v6h-6zM413 57h6v6h-6zM448 57h6v6h-6zM471 57h6v6h-6zM153 63h6v6h-6zM113 69h6v5h-6zM142 69h5v5h-5zM171 69h5v5h-5zM240 69h6v5h-6zM298 69h6v5h-6zM269 80h6v6h-6zM321 80h6v6h-6zM113 86h6v6h-6zM471 86h6v6h-6zM153 103h6v6h-6zM205 103h6v6h-6zM199 109h6v6h-6zM471 109h6v6h-6zM338 132h6v6h-6zM124 138h6v6h-6zM165 138h6v6h-6zM344 138h6v6h-6zM113 144h6v5h-6zM136 144h6v5h-6zM211 144h6v5h-6zM252 144h5v5h-5zM107 149h6v6h-6zM182 149h6v6h-6zM107 155h6v6h-6zM465 155h6v6h-6zM315 161h6v6h-6zM269 167h6v6h-6zM465 167h6v6h-6zM107 173h6v5h-6zM107 178h6v6h-6zM309 178h6v6h-6zM304 190h5v6h-5zM119 207h5v6h-5zM471 207h6v6h-6zM182 213h6v6h-6zM471 213h6v6h-6zM194 219h5v6h-5zM379 219h5v6h-5zM165 230h6v6h-6zM332 230h6v6h-6zM379 230h5v6h-5zM119 242h5v6h-5zM379 259h5v6h-5zM465 259h6v6h-6zM107 277h6v5h-6zM107 294h6v6h-6zM194 300h5v6h-5zM384 317h6v6h-6zM471 317h6v6h-6zM188 323h6v6h-6zM321 323h6v6h-6zM165 329h6v5h-6zM107 334h6v6h-6zM211 334h6v6h-6zM263 346h6v6h-6zM194 352h11v6h-11zM228 369h6v6h-6zM361 369h6v6h-6zM379 369h5v6h-5zM390 381h6v6h-6zM107 392h6v6h-6zM124 392h6v6h-6zM171 392h5v6h-5zM280 392h6v6h-6zM292 392h6v6h-6zM176 398h6v6h-6zM373 398h6v6h-6zM471 398h6v6h-6zM159 404h6v6h-6zM390 404h6v6h-6zM119 410h5v5h-5zM136 410h6v5h-6zM199 410h6v5h-6zM304 410h5v5h-5zM471 410h6v5h-6zM171 415h5v6h-5zM211 415h6v6h-6zM373 415h6v6h-6zM384 415h6v6h-6zM431 415h6v6h-6zM448 415h6v6h-6zM205 421h6v6h-6zM240 421h6v6h-6zM315 421h6v6h-6zM437 421h5v6h-5zM460 421h11v6h-11z"/><path fill="#ffe200" d="M199 57h6v6h-6zM338 57h6v6h-6zM425 57h6v6h-6zM119 63h11v6h-11zM142 63h5v6h-5zM257 63h6v6h-6zM107 69h6v5h-6zM292 69h6v5h-6zM471 69h6v5h-6zM153 80h6v6h-6zM171 80h5v6h-5zM159 86h6v6h-6zM171 86h5v6h-5zM165 92h6v5h-6zM165 97h6v6h-6zM171 103h5v6h-5zM107 126h6v6h-6zM107 132h6v6h-6zM107 219h6v6h-6zM107 225h6v5h-6zM107 230h6v6h-6zM119 236h5v6h-5zM165 236h6v6h-6zM205 242h6v6h-6zM471 248h6v6h-6zM107 259h6v6h-6zM471 259h6v6h-6zM471 265h6v6h-6zM471 294h6v6h-6zM107 300h6v6h-6zM367 323h6v6h-6zM107 329h6v5h-6zM142 334h5v6h-5zM448 334h6v6h-6zM471 334h6v6h-6zM402 352h6v6h-6zM396 363h6v6h-6zM396 369h6v6h-6zM107 375h6v6h-6zM361 375h6v6h-6zM107 381h6v6h-6zM379 387h5v5h-5zM257 392h6v6h-6zM194 398h5v6h-5zM107 404h6v6h-6zM292 404h6v6h-6zM286 410h6v5h-6zM379 410h5v5h-5zM107 415h6v6h-6zM228 421h6v6h-6zM280 421h6v6h-6zM332 421h6v6h-6zM431 421h6v6h-6z"/><path fill="#ffc800" d="M130 57h6v6h-6zM153 57h6v6h-6zM454 57h6v6h-6zM159 74h6v6h-6zM159 103h6v6h-6zM107 109h6v6h-6zM165 126h6v6h-6zM165 132h11v6h-11zM130 144h6v5h-6zM165 144h6v5h-6zM107 207h6v6h-6zM471 242h6v6h-6zM107 248h6v6h-6zM471 271h6v6h-6zM315 340h6v6h-6zM471 404h6v6h-6zM234 421h6v6h-6zM344 421h6v6h-6zM356 421h5v6h-5zM373 421h6v6h-6z"/><path fill="#ff8800" d="M107 86h6v6h-6zM217 86h6v6h-6zM107 92h6v5h-6zM159 97h6v6h-6zM107 103h6v6h-6zM165 121h6v5h-6zM107 138h6v6h-6zM153 144h6v5h-6zM142 236h5v6h-5zM471 288h6v6h-6zM107 311h6v6h-6zM379 415h5v6h-5zM107 421h6v6h-6zM153 421h6v6h-6zM309 421h6v6h-6zM338 421h6v6h-6zM350 421h6v6h-6zM361 421h6v6h-6zM442 421h6v6h-6zM471 421h6v6h-6z"/><path fill="#ff4700" d="M107 115h6v6h-6zM107 121h6v5h-6zM159 121h6v5h-6zM171 138h5v6h-5zM211 421h6v6h-6zM246 421h6v6h-6zM298 421h6v6h-6z"/><path fill="#f00600" d="M153 86h6v6h-6zM107 213h6v6h-6zM257 415h6v6h-6z"/><path fill="#a00000" d="M240 57h6v6h-6zM107 80h6v6h-6zM107 144h6v5h-6z"/></g>
<rect x="107.5" y="58.5" width="370" height="369" fill="none" stroke="#000" stroke-width="1.111"/>
<g stroke="#000" stroke-width="1.111" font-size="13.889"><line x1="110.5" y1="427.2" x2="110.5" y2="432.4"/><text stroke="none" x="110.888" y="447.8" text-anchor="middle" textLength="8.836">0</text><line x1="168.5" y1="427.2" x2="168.5" y2="432.4"/><text stroke="none" x="168.638" y="447.8" text-anchor="middle" textLength="17.672">10</text><line x1="226.5" y1="427.2" x2="226.5" y2="432.4"/><text stroke="none" x="226.388" y="447.8" text-anchor="middle" textLength="17.672">20</text><line x1="283.5" y1="427.2" x2="283.5" y2="432.4"/><text stroke="none" x="284.138" y="447.8" text-anchor="middle" textLength="17.672">30</text><line x1="341.5" y1="427.2" x2="341.5" y2="432.4"/><text stroke="none" x="341.888" y="447.8" text-anchor="middle" textLength="17.672">40</text><line x1="399.5" y1="427.2" x2="399.5" y2="432.4"/><text stroke="none" x="399.638" y="447.8" text-anchor="middle" textLength="17.672">50</text><line x1="457.5" y1="427.2" x2="457.5" y2="432.4"/><text stroke="none" x="457.388" y="447.8" text-anchor="middle" textLength="17.672">60</text><line x1="102.2" y1="424.5" x2="107.2" y2="424.5"/><text stroke="none" x="97.8" y="429.312" text-anchor="end" textLength="8.836">0</text><line x1="102.2" y1="367.5" x2="107.2" y2="367.5"/><text stroke="none" x="97.8" y="371.562" text-anchor="end" textLength="17.672">10</text><line x1="102.2" y1="309.5" x2="107.2" y2="309.5"/><text stroke="none" x="97.8" y="313.812" text-anchor="end" textLength="17.672">20</text><line x1="102.2" y1="251.5" x2="107.2" y2="251.5"/><text stroke="none" x="97.8" y="256.062" text-anchor="end" textLength="17.672">30</text><line x1="102.2" y1="193.5" x2="107.2" y2="193.5"/><text stroke="none" x="97.8" y="198.312" text-anchor="end" textLength="17.672">40</text><line x1="102.2" y1="136.5" x2="107.2" y2="136.5"/><text stroke="none" x="97.8" y="140.562" text-anchor="end" textLength="17.672">50</text><line x1="102.2" y1="78.5" x2="107.2" y2="78.5"/><text stroke="none" x="97.8" y="82.812" text-anchor="end" textLength="17.672">60</text></g>
<rect x="501.6" y="74.4" width="16.8" height="336" fill="url(#jet)"/>
<polygon points="501.6,75.4 501.6,74.4 510,57.6 518.4,74.4 518.4,75.4" fill="#800000"/>
<polygon points="501.6,409.4 501.6,410.4 510,427.2 518.4,410.4 518.4,409.4" fill="#000080"/>
<polygon points="501.6,74.4 510,57.6 518.4,74.4 518.4,410.4 510,427.2 501.6,410.4" fill="none" stroke="#000" stroke-width="1.111"/>
<g stroke="#000" stroke-width="1.111" font-size="13.889"><line x1="518.4" y1="410.5" x2="523.4" y2="410.5"/><text stroke="none" x="528.4" y="416.23" textLength="8.836">0</text><line x1="518.4" y1="364.5" x2="523.4" y2="364.5"/><text stroke="none" x="528.4" y="370.26" textLength="17.672">20</text><line x1="518.4" y1="318.5" x2="523.4" y2="318.5"/><text stroke="none" x="528.4" y="324.29" textLength="17.672">40</text><line x1="518.4" y1="272.5" x2="523.4" y2="272.5"/><text stroke="none" x="528.4" y="278.32" textLength="17.672">60</text><line x1="518.4" y1="226.5" x2="523.4" y2="226.5"/><text stroke="none" x="528.4" y="232.35" textLength="17.672">80</text><line x1="518.4" y1="180.5" x2="523.4" y2="180.5"/><text stroke="none" x="528.4" y="186.38" textLength="26.509">100</text><line x1="518.4" y1="135.5" x2="523.4" y2="135.5"/><text stroke="none" x="528.4" y="140.41" textLength="26.509">120</text><line x1="518.4" y1="89.5" x2="523.4" y2="89.5"/><text stroke="none" x="528.4" y="94.44" textLength="26.509">140</text></g>
</svg>
</body></html>
